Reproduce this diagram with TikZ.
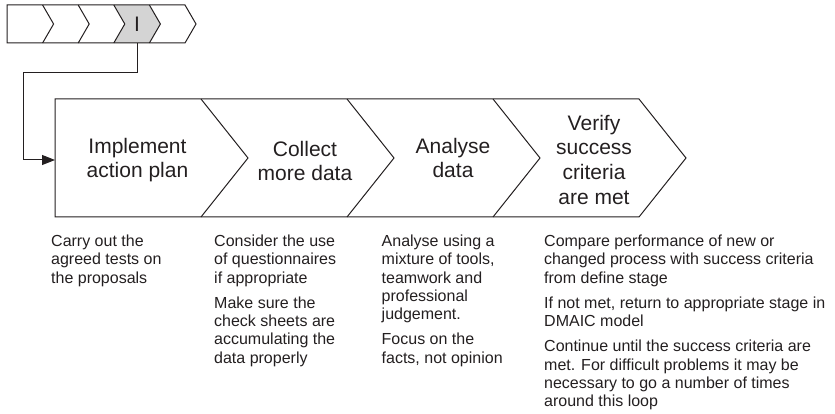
\documentclass[tikz,border=0pt]{standalone}
\usepackage{fontspec}
\setmainfont{Liberation Sans}
\usetikzlibrary{arrows.meta,positioning}
\definecolor{ink}{HTML}{231F20}
\definecolor{stagegray}{HTML}{D4D4D4}

\begin{document}
\begin{tikzpicture}[x=1pt,y=-1pt,
  chev/.style={draw=ink,line width=1pt,line join=miter},
  lbl/.style={align=center,inner sep=0pt,text=ink,font=\fontsize{21}{24.7}\selectfont},
  desc/.style={anchor=north west,align=left,inner sep=0pt,text=ink,font=\fontsize{16}{18.4}\selectfont},
  arr/.style={draw=ink,line width=1pt,-{Triangle[length=13pt,width=10pt]}}]
  \useasboundingbox (0,0) rectangle (835,414);
  % overview strip, stage I shaded
  \fill[stagegray] (113.8,5) -- (149.4,5) -- (160.4,24) -- (149.4,43) -- (113.8,43) -- (124.8,24) -- cycle;
  \draw[chev] (7,5) -- (185,5) -- (196,24) -- (185,43) -- (7,43) -- cycle;
  \foreach \x in {42.6,78.2,113.8,149.4}
    \draw[chev] (\x,5) -- ++(11,19) -- ++(-11,19);
  \node[lbl,minimum height=38pt] (stepI) at (137,24) {I};
  % main chevrons
  \draw[chev] (55,99) -- (639,99) -- (686,158) -- (639,217) -- (55,217) -- cycle;
  \foreach \x in {201,347,493}
    \draw[chev] (\x,99) -- ++(47,59) -- ++(-47,59);
  \node[lbl] (impl) at (137.5,160.2) {Implement\\action plan};
  \node[lbl] (collect) at (305,161) {Collect\\more data};
  \node[lbl] (analyse) at (453,158) {Analyse\\data};
  \node[lbl] (verify) at (594,159.7) {Verify\\success\\criteria\\are met};
  \coordinate (entry) at (55,160);
  \draw[arr] (stepI.south) -- ++(0,29) -| ([xshift=-32pt]entry) -- (entry);
  % notes under each stage
  \node[desc] (impltxt) at (51,234.5) {Carry out the\\agreed tests on\\the proposals};
  \node[desc] (collecttxt) at (214,234.5) {Consider the use\\of questionnaires\\if appropriate\\[6.7pt]Make sure the\\check sheets are\\accumulating the\\data properly};
  \node[desc] (analysetxt) at (381.5,234.5) {Analyse using a\\mixture of tools,\\teamwork and\\professional\\judgement.\\[6.7pt]Focus on the\\facts, not opinion};
  \node[desc] (verifytxt) at (544,234.5) {Compare performance of new or\\changed process with success criteria\\from define stage\\[6.7pt]If not met, return to appropriate stage in\\DMAIC model\\[6.7pt]Continue until the success criteria are\\met. For difficult problems it may be\\necessary to go a number of times\\around this loop};
\end{tikzpicture}
\end{document}
